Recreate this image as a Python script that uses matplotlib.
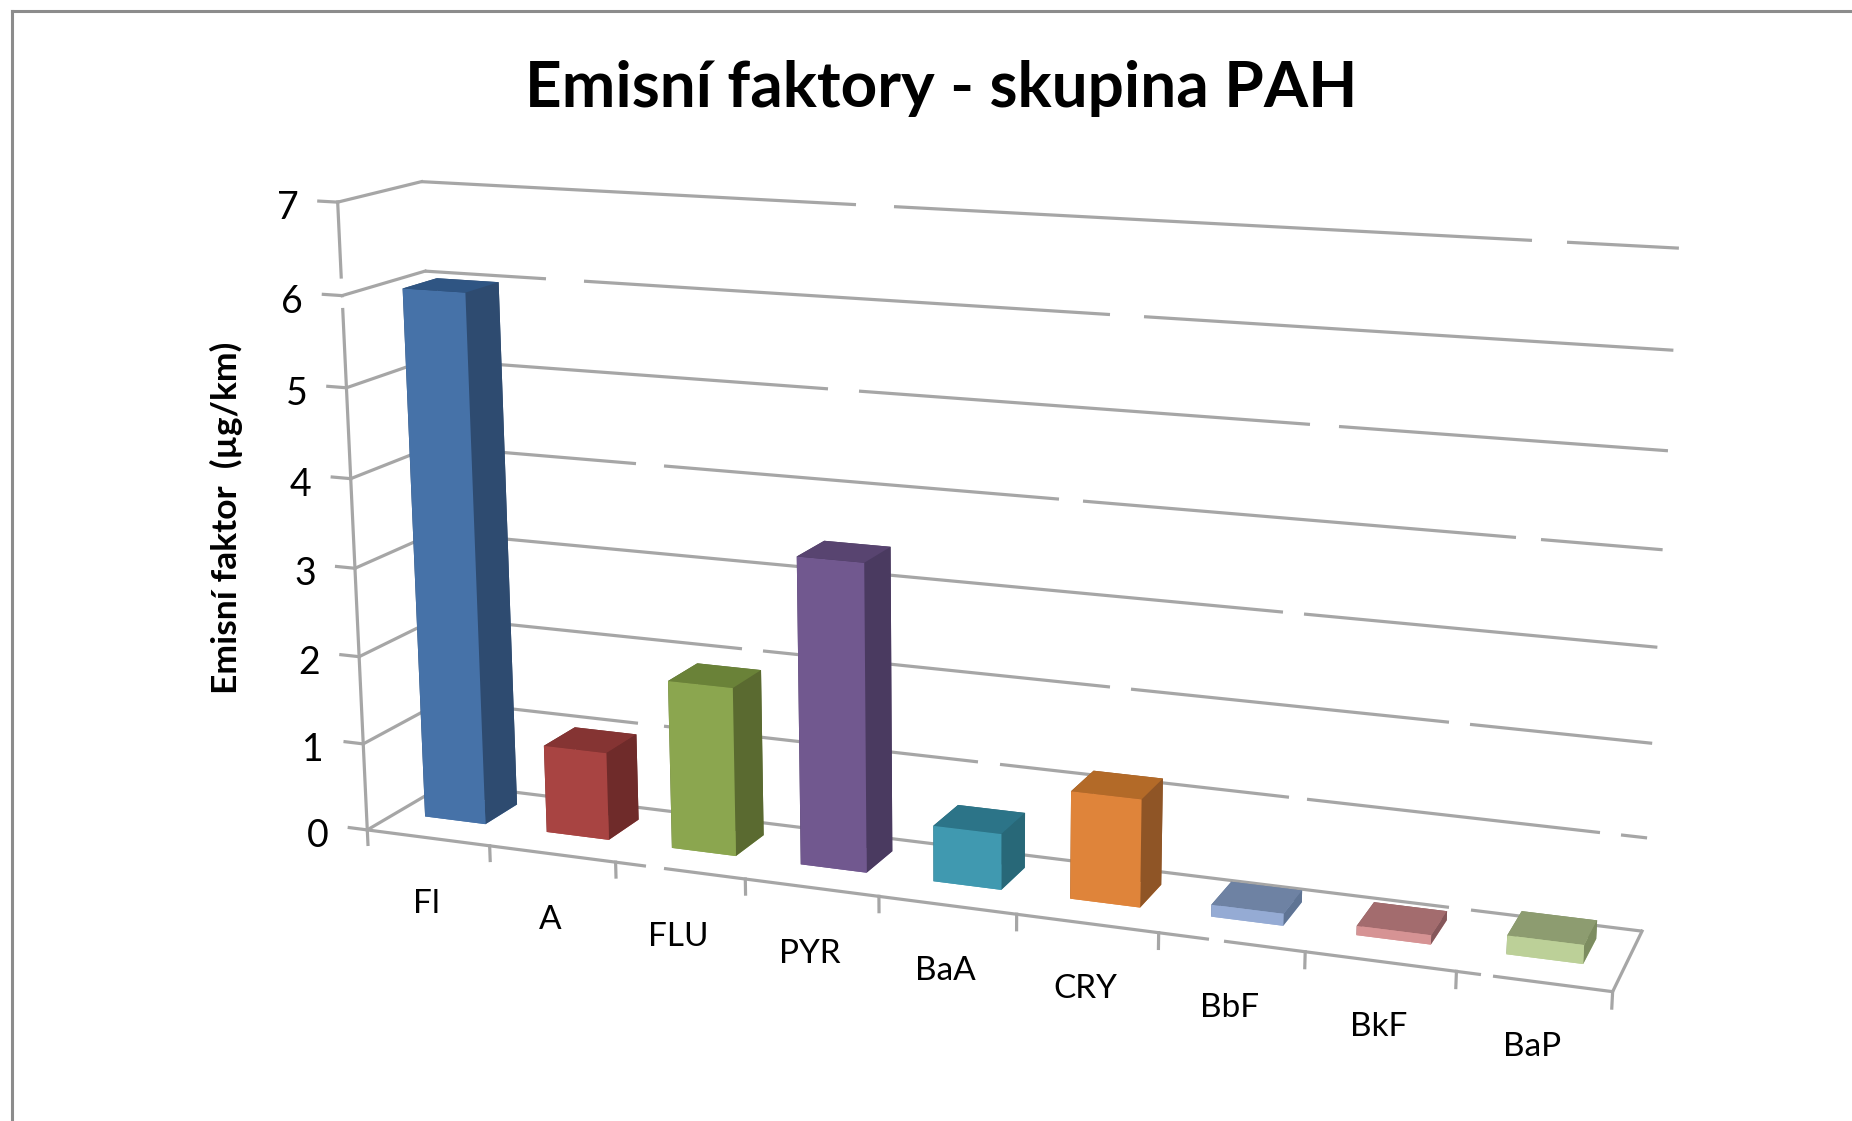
import numpy as np
import matplotlib
matplotlib.use('Agg')
import matplotlib.pyplot as plt
from mpl_toolkits.mplot3d import proj3d

plt.rcParams['font.family'] = ['Lato', 'DejaVu Sans']

categories = ['Fl', 'A', 'FLU', 'PYR', 'BaA', 'CRY', 'BbF', 'BkF', 'BaP']
values = [6.0, 1.0, 1.9, 3.42, 0.62, 1.18, 0.13, 0.1, 0.2]
front_colors = ['#4672A8', '#A84442', '#8BA64F', '#71588F', '#4099B0', '#DF843A', '#95ABD4', '#D69394', '#BCD098']
side_colors = ['#2E4B70', '#6F2B2A', '#5A6A30', '#4A3A60', '#286878', '#8F5526', '#5F7494', '#85575A', '#7C8C60']
top_colors = ['#2F5583', '#853433', '#6A8238', '#584470', '#2C7488', '#B36A28', '#6E82A3', '#A36C6E', '#8D9C70']
z_levels = [0, 1, 2, 3, 4, 5, 6, 7]

# breaks in the gridlines of the original, in picture pixels along x
back_gaps = {0: [(1449, 1471)],
             1: [(638, 664), (978, 1000), (1289, 1307), (1600, 1621)],
             2: [(742, 763), (1110, 1131), (1449, 1470)],
             3: [(1283, 1304)],
             4: [(636, 664), (1059, 1083), (1516, 1541)],
             5: [(828, 859), (1310, 1339)],
             6: [(546, 584), (1110, 1144)],
             7: [(856, 894), (1532, 1567)]}
front_gaps = [(646, 664), (1209, 1224), (1481, 1493)]

W, H = 1852, 1121
fig = plt.figure(figsize=(W / 100, H / 100), dpi=100)
S = 2400
ax = fig.add_axes([(926 - S / 2 + 18.6) / W, (560.5 - S / 2 - 31.4) / H, S / W, S / H], projection='3d')
ax.set_xlim(0, 9, view_margin=0)
ax.set_ylim(0, 1, view_margin=0)
ax.set_zlim(0, 7, view_margin=0)
ax.view_init(elev=14.1279, azim=-69.6872, roll=-0.0551)
ax.set_proj_type('persp', focal_length=0.2509)
ax.set_box_aspect((1, 0.1279, 0.5076), zoom=0.6064)
ax.set_axis_off()
M = ax.get_proj()

grid_color = '#a6a6a6'
grid_lw = 2.3


def to_px(x, y, z):
    xs, ys, _ = proj3d.proj_transform(np.asarray(x, float), np.asarray(y, float), np.asarray(z, float), M)
    return ax.transData.transform(np.column_stack([xs, ys]))[:, 0]


def broken_x_line(y, z, gaps):
    # x axis direction line with breaks given in pixels
    us = np.linspace(0, 9, 200)
    px = to_px(us, np.full(200, y), np.full(200, z))
    start = 0.0
    for a, b in gaps:
        ua, ub = np.interp([a, b], px, us)
        ax.plot([start, ua], [y, y], [z, z], color=grid_color, lw=grid_lw, solid_capstyle='butt')
        start = ub
    ax.plot([start, 9], [y, y], [z, z], color=grid_color, lw=grid_lw, solid_capstyle='butt')


def label(x, y, z, text, dx, dy, **kw):
    xs, ys, _ = proj3d.proj_transform(np.array([x], float), np.array([y], float), np.array([z], float), M)
    ax.annotate(text, xy=(xs[0], ys[0]), xycoords='data', xytext=(dx, dy), textcoords='offset pixels',
                ha='center', va='center', color='black', **kw)


for z in z_levels:
    broken_x_line(1, z, back_gaps[z])
    ax.plot([0, 0], [0, 1], [z, z], color=grid_color, lw=grid_lw)
    ax.plot([-0.15, 0], [0, 0], [z, z], color=grid_color, lw=grid_lw)
    label(0, 0, z, str(z), -50, -6, fontsize=27)
ax.plot([0, 0], [0, 0], [0, 5.85], color=grid_color, lw=grid_lw)
ax.plot([0, 0], [0, 0], [6.2, 7], color=grid_color, lw=grid_lw)
broken_x_line(0, 0, front_gaps)
ax.plot([9, 9], [0, 1], [0, 0], color=grid_color, lw=grid_lw)
for i in range(len(categories) + 1):
    ax.plot([i, i], [0, 0], [0, -0.17], color=grid_color, lw=grid_lw)

for i, v in enumerate(values):
    cols = [front_colors[i], top_colors[i], front_colors[i], side_colors[i], side_colors[i], side_colors[i]]
    ax.bar3d(i + 0.24, 0.36, 0, 0.5, 0.42, v, color=cols, shade=False, edgecolor='none')
    label(i + 0.5, 0, 0, categories[i], -2, -66, fontsize=24)

fig.text(797 / 1568, 1 - 74.5 / 949, 'Emisní faktory - skupina PAH', fontsize=46, fontweight='bold', ha='center', va='center')
fig.text(192 / 1568, 1 - 438 / 949, 'Emisní faktor  (µg/km)', fontsize=25.5, fontweight='bold', rotation=90, ha='center', va='center')
fig.add_artist(plt.Line2D([11.5 / W, 11.5 / W], [0, 1 - 10.5 / H], color='#8c8c8c', lw=2.2))
fig.add_artist(plt.Line2D([11.5 / W, 1], [1 - 10.5 / H, 1 - 10.5 / H], color='#8c8c8c', lw=2.2))

fig.savefig('out.png', dpi=100)
